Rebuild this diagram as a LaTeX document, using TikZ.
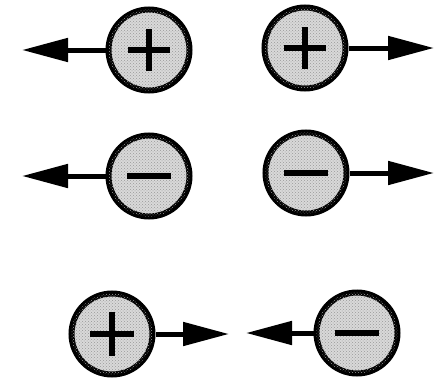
\documentclass[tikz,border=0pt]{standalone}
\usetikzlibrary{arrows.meta,patterns}
\begin{document}
\begin{tikzpicture}[x=1pt,y=-1pt,
  charge/.style={circle,draw=black,line width=6pt,fill=gray!30,
    postaction={pattern=crosshatch dots,pattern color=gray!80},
    minimum size=81pt,inner sep=0pt},
  sign/.style={line width=5.5pt},
  force/.style={line width=5pt,-{Triangle[length=46pt,width=23pt]}}]
\fill[white] (0,0) rectangle (439,380);
\useasboundingbox (0,0) rectangle (439,380);
\node[charge] (A) at (149,50) {};
\node[charge] (B) at (305,48) {};
\node[charge] (C) at (149,176) {};
\node[charge] (D) at (306,173) {};
\node[charge] (E) at (112,334) {};
\node[charge] (F) at (357,333) {};
\coordinate (a) at (22,50);
\coordinate (b) at (434,48);
\coordinate (c) at (22,176);
\coordinate (d) at (434,173);
\coordinate (e) at (229,334);
\coordinate (f) at (246,333);
% signs
\draw[sign] ([xshift=-21pt]A.center) -- ([xshift=21pt]A.center);
\draw[sign] ([yshift=-21pt]A.center) -- ([yshift=21pt]A.center);
\draw[sign] ([xshift=-21pt]B.center) -- ([xshift=21pt]B.center);
\draw[sign] ([yshift=-21pt]B.center) -- ([yshift=21pt]B.center);
\draw[sign] ([xshift=-22pt]C.center) -- ([xshift=22pt]C.center);
\draw[sign] ([xshift=-22pt]D.center) -- ([xshift=22pt]D.center);
\draw[sign] ([xshift=-22pt]E.center) -- ([xshift=22pt]E.center);
\draw[sign] ([yshift=-22pt]E.center) -- ([yshift=22pt]E.center);
\draw[sign] ([xshift=-22pt]F.center) -- ([xshift=22pt]F.center);
% forces
\draw[force] (A.west) -- (a);
\draw[force] (B.east) -- (b);
\draw[force] (C.west) -- (c);
\draw[force] (D.east) -- (d);
\draw[force] (E.east) -- (e);
\draw[force] (F.west) -- (f);
\end{tikzpicture}
\end{document}
